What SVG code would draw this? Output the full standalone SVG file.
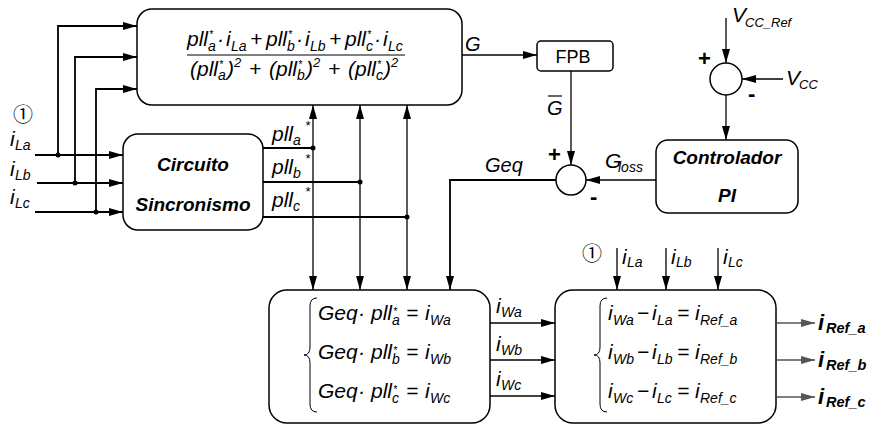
<svg xmlns="http://www.w3.org/2000/svg" width="869" height="425" viewBox="0 0 869 425">
<style>
text{font-family:"Liberation Sans",Arial,sans-serif;fill:#000}
.m{font-style:italic;font-size:21px}
.m20{font-style:italic;font-size:20px}
.bi{font-style:italic;font-weight:bold;font-size:19px}
.ro{font-style:italic;font-weight:bold;font-size:22px}
.rs{font-size:14.5px}
.s{font-size:14px}
.st{font-size:10.5px}
.box{fill:#fff;stroke:#000;stroke-width:1.5}
.ln{fill:none;stroke:#000;stroke-width:1.3}
.th{stroke-width:1.8}
.gr{fill:none;stroke:#555;stroke-width:1.3}
.br{fill:none;stroke:#000;stroke-width:1}
.sg{font-weight:bold;font-size:22px}
.ci{font-family:"Noto Sans CJK JP","DejaVu Sans",sans-serif;font-size:20px}
</style>
<defs>
<marker id="ah" markerUnits="userSpaceOnUse" markerWidth="14" markerHeight="8" refX="14" refY="4" orient="auto-start-reverse"><path d="M0,0 L14,4 L0,8 z" fill="#000"/></marker>
<marker id="ahg" markerUnits="userSpaceOnUse" markerWidth="14" markerHeight="8" refX="14" refY="4" orient="auto"><path d="M0,0 L14,4 L0,8 z" fill="#555"/></marker>
</defs>
<rect width="869" height="425" fill="#fff"/>

<g id="connectors">
<path class="ln th" d="M35,155 H123" marker-end="url(#ah)"/>
<path class="ln th" d="M37,183 H123" marker-end="url(#ah)"/>
<path class="ln th" d="M35,212 H123" marker-end="url(#ah)"/>
<path class="ln th" d="M58,155 V26 H137" marker-end="url(#ah)"/>
<path class="ln th" d="M75,183 V57 H137" marker-end="url(#ah)"/>
<path class="ln th" d="M96,212 V89 H137" marker-end="url(#ah)"/>
<path class="ln th" d="M263,148 H313"/>
<path class="ln th" d="M263,182 H360"/>
<path class="ln th" d="M263,217 H407"/>
<path class="ln" d="M313,105 V290" marker-start="url(#ah)" marker-end="url(#ah)"/>
<path class="ln" d="M360,105 V290" marker-start="url(#ah)" marker-end="url(#ah)"/>
<path class="ln" d="M407,105 V290" marker-start="url(#ah)" marker-end="url(#ah)"/>
<path class="ln th" d="M556,180 H450 V290" marker-end="url(#ah)"/>
<path class="ln" d="M462,55 H537" marker-end="url(#ah)"/>
<path class="ln" d="M571,71 V165" marker-end="url(#ah)"/>
<path class="ln" d="M656,180 H586" marker-end="url(#ah)"/>
<path class="ln" d="M726,18 V63" marker-end="url(#ah)"/>
<path class="ln" d="M783,79 H742" marker-end="url(#ah)"/>
<path class="ln" d="M726,95 V140" marker-end="url(#ah)"/>
<path class="ln" d="M617,248 V290" marker-end="url(#ah)"/>
<path class="ln" d="M666,248 V290" marker-end="url(#ah)"/>
<path class="ln" d="M718,248 V290" marker-end="url(#ah)"/>
<path class="ln" d="M490,323 H555" marker-end="url(#ah)"/>
<path class="ln" d="M490,360 H555" marker-end="url(#ah)"/>
<path class="ln" d="M490,396 H555" marker-end="url(#ah)"/>
<path class="gr" d="M777,323 H815" marker-end="url(#ahg)"/>
<path class="gr" d="M777,360 H815" marker-end="url(#ahg)"/>
<path class="gr" d="M777,397 H815" marker-end="url(#ahg)"/>
<g fill="#000">
<circle cx="58" cy="155" r="2.5"/><circle cx="75" cy="183" r="2.5"/><circle cx="96" cy="212" r="2.5"/>
<circle cx="313" cy="148" r="2.5"/><circle cx="360" cy="182" r="2.5"/><circle cx="407" cy="217" r="2.5"/>
</g>
</g>

<g id="node-formula-g">
<rect class="box" x="137" y="9" width="325" height="96" rx="15"/>
<text class="m">
<tspan x="187" y="46">pll</tspan><tspan class="st" x="209" y="38">*</tspan><tspan class="s" x="208" y="51">a</tspan><tspan x="217" y="46">·</tspan><tspan x="226" y="46">i</tspan><tspan class="s" x="231" y="51">La</tspan><tspan x="250" y="46">+</tspan>
<tspan x="266" y="46">pll</tspan><tspan class="st" x="288" y="38">*</tspan><tspan class="s" x="287" y="51">b</tspan><tspan x="296" y="46">·</tspan><tspan x="305" y="46">i</tspan><tspan class="s" x="310" y="51">Lb</tspan><tspan x="329" y="46">+</tspan>
<tspan x="345" y="46">pll</tspan><tspan class="st" x="367" y="38">*</tspan><tspan class="s" x="366" y="51">c</tspan><tspan x="374" y="46">·</tspan><tspan x="383" y="46">i</tspan><tspan class="s" x="388" y="51">Lc</tspan>
</text>
<line x1="187" y1="55" x2="405" y2="55" stroke="#000" stroke-width="1.2"/>
<text class="m">
<tspan x="190" y="76">(</tspan><tspan x="197" y="76">pll</tspan><tspan class="st" x="219" y="68">*</tspan><tspan class="s" x="218" y="80">a</tspan><tspan x="227" y="76">)</tspan><tspan font-size="13" x="234" y="67">2</tspan><tspan x="249" y="76">+</tspan>
<tspan x="269" y="76">(</tspan><tspan x="276" y="76">pll</tspan><tspan class="st" x="298" y="68">*</tspan><tspan class="s" x="297" y="80">b</tspan><tspan x="306" y="76">)</tspan><tspan font-size="13" x="313" y="67">2</tspan><tspan x="328" y="76">+</tspan>
<tspan x="348" y="76">(</tspan><tspan x="355" y="76">pll</tspan><tspan class="st" x="377" y="68">*</tspan><tspan class="s" x="376" y="80">c</tspan><tspan x="384" y="76">)</tspan><tspan font-size="13" x="391" y="67">2</tspan>
</text>
</g>

<g id="node-fpb">
<rect class="box" x="537" y="41" width="76" height="30" rx="4"/>
<text x="573" y="63" font-size="18" text-anchor="middle">FPB</text>
</g>

<g id="node-sum-vcc">
<circle class="box" cx="726" cy="79" r="16"/>
<text class="sg" x="698" y="66">+</text>
<text class="sg" x="748" y="101">-</text>
</g>

<g id="node-controlador">
<rect class="box" x="656" y="140" width="142" height="73" rx="12"/>
<text class="bi" x="727" y="164" text-anchor="middle">Controlador</text>
<text class="bi" x="727" y="202" text-anchor="middle">PI</text>
</g>

<g id="node-sum-g">
<circle class="box" cx="571" cy="180" r="15"/>
<text class="sg" x="548" y="162">+</text>
<text class="sg" x="590" y="204">-</text>
</g>

<g id="node-circuito">
<rect class="box" x="123" y="134" width="140" height="96" rx="15"/>
<text class="bi" x="193" y="171" text-anchor="middle">Circuito</text>
<text class="bi" x="193" y="211" text-anchor="middle">Sincronismo</text>
</g>

<g id="node-calc-iw">
<rect class="box" x="269" y="290" width="221" height="133" rx="18"/>
<path class="br" d="M317,298 Q310,298 310,306 L310,347 Q310,355 304,355 Q310,355 310,363 L310,404 Q310,412 317,412"/>
<text class="m">
<tspan x="318" y="320">Geq</tspan><tspan x="358" y="320">·</tspan><tspan x="371" y="320">pll</tspan><tspan class="st" x="393" y="315">*</tspan><tspan class="s" x="392" y="325">a</tspan><tspan x="406" y="320">=</tspan><tspan x="425" y="320">i</tspan><tspan class="s" x="430" y="325">Wa</tspan>
</text>
<text class="m">
<tspan x="318" y="359">Geq</tspan><tspan x="358" y="359">·</tspan><tspan x="371" y="359">pll</tspan><tspan class="st" x="393" y="354">*</tspan><tspan class="s" x="392" y="364">b</tspan><tspan x="406" y="359">=</tspan><tspan x="425" y="359">i</tspan><tspan class="s" x="430" y="364">Wb</tspan>
</text>
<text class="m">
<tspan x="318" y="398">Geq</tspan><tspan x="358" y="398">·</tspan><tspan x="371" y="398">pll</tspan><tspan class="st" x="393" y="393">*</tspan><tspan class="s" x="392" y="403">c</tspan><tspan x="406" y="398">=</tspan><tspan x="425" y="398">i</tspan><tspan class="s" x="430" y="403">Wc</tspan>
</text>
</g>

<g id="node-calc-iref">
<rect class="box" x="555" y="290" width="221" height="133" rx="18"/>
<path class="br" d="M607,298 Q600,298 600,306 L600,347 Q600,355 594,355 Q600,355 600,363 L600,404 Q600,412 607,412"/>
<text class="m">
<tspan x="608" y="320">i</tspan><tspan class="s" x="613" y="325">Wa</tspan><tspan x="637" y="320">−</tspan><tspan x="652" y="320">i</tspan><tspan class="s" x="657" y="325">La</tspan><tspan x="677" y="320">=</tspan><tspan x="695" y="320">i</tspan><tspan class="s" x="700" y="325">Ref_a</tspan>
</text>
<text class="m">
<tspan x="608" y="359">i</tspan><tspan class="s" x="613" y="364">Wb</tspan><tspan x="637" y="359">−</tspan><tspan x="652" y="359">i</tspan><tspan class="s" x="657" y="364">Lb</tspan><tspan x="677" y="359">=</tspan><tspan x="695" y="359">i</tspan><tspan class="s" x="700" y="364">Ref_b</tspan>
</text>
<text class="m">
<tspan x="608" y="398">i</tspan><tspan class="s" x="613" y="403">Wc</tspan><tspan x="637" y="398">−</tspan><tspan x="652" y="398">i</tspan><tspan class="s" x="657" y="403">Lc</tspan><tspan x="677" y="398">=</tspan><tspan x="695" y="398">i</tspan><tspan class="s" x="700" y="403">Ref_c</tspan>
</text>
</g>

<g id="labels">
<text class="ci" x="23" y="122" text-anchor="middle">①</text>
<text class="m"><tspan x="10" y="146">i</tspan><tspan class="s" x="15" y="150">La</tspan></text>
<text class="m"><tspan x="10" y="176">i</tspan><tspan class="s" x="15" y="180">Lb</tspan></text>
<text class="m"><tspan x="10" y="204">i</tspan><tspan class="s" x="15" y="208">Lc</tspan></text>
<text class="m"><tspan x="272" y="141">pll</tspan><tspan class="s" x="293" y="145">a</tspan><tspan font-size="13" x="305" y="130">*</tspan></text>
<text class="m"><tspan x="272" y="174">pll</tspan><tspan class="s" x="293" y="178">b</tspan><tspan font-size="13" x="305" y="163">*</tspan></text>
<text class="m"><tspan x="272" y="207">pll</tspan><tspan class="s" x="293" y="211">c</tspan><tspan font-size="13" x="305" y="196">*</tspan></text>
<text class="m20" x="465" y="51">G</text>
<text class="m20" x="547" y="115">G</text>
<line x1="548" y1="96" x2="562" y2="96" stroke="#000" stroke-width="1.2"/>
<text class="m20" x="485" y="172">Geq</text>
<text class="m"><tspan x="605" y="168">G</tspan><tspan class="s" x="618" y="172">loss</tspan></text>
<text class="m"><tspan x="732" y="22">V</tspan><tspan font-size="13" x="745" y="27">CC_Ref</tspan></text>
<text class="m"><tspan x="786" y="85">V</tspan><tspan font-size="13" x="799" y="89">CC</tspan></text>
<text class="ci" x="592" y="261" text-anchor="middle">①</text>
<text class="m"><tspan x="622" y="264">i</tspan><tspan class="s" x="627" y="267">La</tspan></text>
<text class="m"><tspan x="671" y="264">i</tspan><tspan class="s" x="676" y="267">Lb</tspan></text>
<text class="m"><tspan x="723" y="264">i</tspan><tspan class="s" x="728" y="267">Lc</tspan></text>
<text class="m"><tspan x="496" y="313">i</tspan><tspan class="s" x="501" y="317">Wa</tspan></text>
<text class="m"><tspan x="496" y="351">i</tspan><tspan class="s" x="501" y="355">Wb</tspan></text>
<text class="m"><tspan x="496" y="386">i</tspan><tspan class="s" x="501" y="390">Wc</tspan></text>
<text class="ro"><tspan x="818" y="330">i</tspan><tspan class="rs" x="826" y="333">Ref_a</tspan></text>
<text class="ro"><tspan x="818" y="367">i</tspan><tspan class="rs" x="826" y="370">Ref_b</tspan></text>
<text class="ro"><tspan x="818" y="404">i</tspan><tspan class="rs" x="826" y="407">Ref_c</tspan></text>
</g>
</svg>
